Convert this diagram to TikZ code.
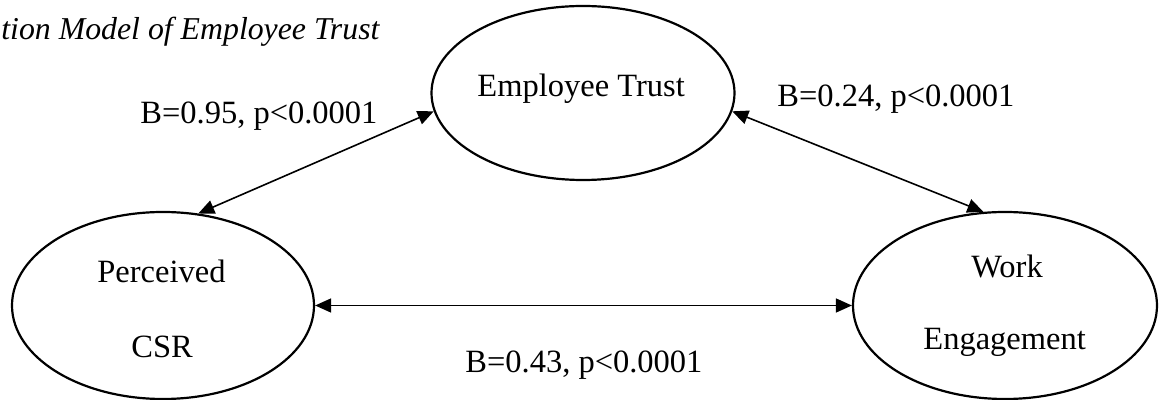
\documentclass[tikz,border=0pt]{standalone}
\usepackage{fontspec}
\setmainfont{Liberation Serif}
\usetikzlibrary{arrows.meta,shapes.geometric}

\begin{document}
\begin{tikzpicture}[
    x=0.5pt, y=-0.5pt,
    latent/.style={draw, ellipse, line width=1.1pt, inner sep=0pt},
    txt/.style={anchor=base west, inner sep=0pt, font=\fontsize{16.25}{19.5}\selectfont},
    link/.style={{Triangle[length=8pt,width=7pt]}-{Triangle[length=8pt,width=7pt]}, line width=0.8pt}
  ]
    \useasboundingbox (0,0) rectangle (1162,400);
    \node[anchor=base west, inner sep=0pt, font=\fontsize{15.9}{19}\selectfont\itshape] (title) at (1,40) {tion Model of Employee Trust};

    \node[latent, minimum width=151.5pt, minimum height=87pt] (trust) at (583,93) {};
    \node[latent, minimum width=151pt, minimum height=93.5pt] (csr) at (163,305.5) {};
    \node[latent, minimum width=152pt, minimum height=93.5pt] (work) at (1005,305.5) {};

    \node[txt] (trustA) at (477,97) {Employee Trust};
    \node[txt] (csrA) at (97,283) {Perceived};
    \node[txt] (csrB) at (131,358) {CSR};
    \node[txt] (workA) at (971,278) {Work};
    \node[txt] (workB) at (923,350) {Engagement};

    \node[txt] (b1) at (140,124) {B=0.95, p<0.0001};
    \node[txt] (b2) at (777,107) {B=0.24, p<0.0001};
    \node[txt] (b3) at (465,373) {B=0.43, p<0.0001};

    \draw[link] (trust.187) -- (csr.69);
    \draw[link] (trust.-7.5) -- (work.103);
    \draw[link] (csr.east) -- (work.west);
  \end{tikzpicture}
\end{document}
